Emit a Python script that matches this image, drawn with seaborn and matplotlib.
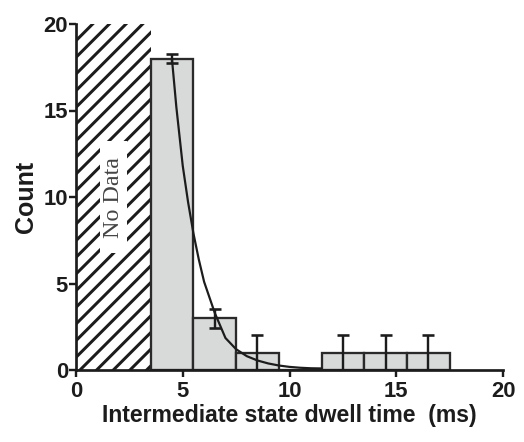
import numpy as np
import pandas as pd
import matplotlib
matplotlib.use("Agg")
import matplotlib.pyplot as plt
import seaborn as sns

# ---------------- data ----------------
bin_centers = [4.5, 6.5, 8.5, 10.5, 12.5, 14.5, 16.5]
counts = [18, 3, 1, 0, 1, 1, 1]
count_errors = [0.25, 0.55, 1.0, 0.0, 1.0, 1.0, 1.0]
no_data_range = [0.0, 3.5]
no_data_label = "No Data"
fit_x = [4.5, 4.7, 5.0, 5.25, 5.5, 5.75, 6.0, 6.5, 7.0, 7.5, 8.0, 8.5, 9.0, 9.5, 10.0, 10.5, 11.0, 11.5]
fit_y = [17.9, 15.2, 11.8, 9.7, 7.9, 6.4, 5.1, 3.3, 1.85, 1.2, 0.8, 0.55, 0.38, 0.26, 0.18, 0.13, 0.1, 0.09]
x_ticks = [0, 5, 10, 15, 20]
y_ticks = [0, 5, 10, 15, 20]
x_label = "Intermediate state dwell time  (ms)"
y_label = "Count"

# ---------------- style ----------------
DPI = 100
PX = 72.0 / DPI  # points per pixel
INK = "#1c1c1c"

sns.set_theme(style="ticks")
plt.rcParams["font.family"] = ["Liberation Sans", "DejaVu Sans"]
plt.rcParams["hatch.linewidth"] = 3.0 * PX
plt.rcParams["hatch.color"] = INK

fig = plt.figure(figsize=(524 / DPI, 442 / DPI), dpi=DPI)
ax = fig.add_axes([76 / 524, 1 - 370 / 442, 427 / 524, 346 / 442])

# hatched "no data" region
ax.axvspan(no_data_range[0], no_data_range[1], facecolor="white",
           edgecolor=INK, hatch="//", linewidth=0, zorder=1)

# histogram bars
df = pd.DataFrame({"center": bin_centers, "count": counts})
sns.barplot(data=df, x="center", y="count", native_scale=True, width=1.0,
            color="#d8d9d9", saturation=1, edgecolor="#2a2a2a",
            linewidth=2.3 * PX, errorbar=None, ax=ax, zorder=2)

# error bars (only where there are counts)
cx = np.array(bin_centers)
cy = np.array(counts, dtype=float)
ce = np.array(count_errors)
m = cy > 0
ax.errorbar(cx[m], cy[m], yerr=ce[m], fmt="none", ecolor=INK,
            elinewidth=2.4 * PX, capsize=6 * PX, capthick=2.6 * PX, zorder=3)

# fitted decay curve
sns.lineplot(x=fit_x, y=fit_y, color=INK, linewidth=2.2 * PX, ax=ax, zorder=4)

# "No Data" label
ax.text(1.76, 10.0, "  " + no_data_label + "  ", rotation=90, ha="center", va="center",
        family=["Liberation Serif", "DejaVu Serif"], fontsize=24 * PX,
        color="#444444", zorder=5,
        bbox=dict(facecolor="white", edgecolor="none", boxstyle="square,pad=0.13"))

# axes
ax.set_xlim(0, 20)
ax.set_ylim(0, 20)
ax.set_xticks(x_ticks)
ax.set_yticks(y_ticks)
ax.set_xticklabels([str(t) for t in x_ticks], fontweight="bold", fontsize=22 * PX)
ax.set_yticklabels([str(t) for t in y_ticks], fontweight="bold", fontsize=22 * PX)
ax.tick_params(axis="both", direction="out", length=7 * PX, width=2.4 * PX, color=INK, labelcolor=INK)
ax.tick_params(axis="x", pad=4 * PX)
ax.tick_params(axis="y", pad=1 * PX)
sns.despine(ax=ax)
for s in ["left", "bottom"]:
    ax.spines[s].set_linewidth(2.7 * PX)
    ax.spines[s].set_color(INK)
    ax.spines[s].set_zorder(6)
ax.set_xlabel(x_label, fontsize=23 * PX, fontweight="bold", color=INK, labelpad=2 * PX)
ax.set_ylabel(y_label, fontsize=25 * PX, fontweight="bold", color=INK, labelpad=6 * PX)
ax.set_facecolor("white")
ax.grid(False)

fig.savefig("out.png", dpi=DPI, facecolor="white")
